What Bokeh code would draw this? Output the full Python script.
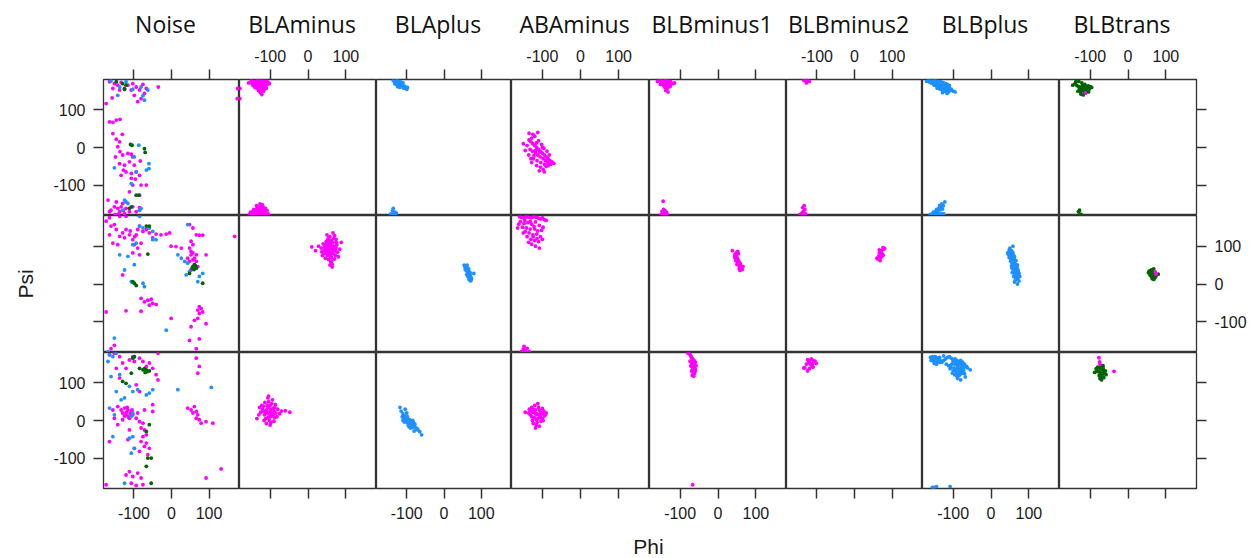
import math
from bokeh.plotting import figure
from bokeh.layouts import gridplot, column, row
from bokeh.models import Range1d, FixedTicker, LinearAxis, Label, CustomJSTickFormatter
from bokeh.embed import file_html
from bokeh.resources import INLINE

# ---------------- data (phi, psi) ----------------
clusters = ["Noise", "BLAminus", "BLAplus", "ABAminus", "BLBminus1", "BLBminus2", "BLBplus", "BLBtrans"]
tick_values = [-100, 0, 100]
x_title, y_title = "Phi", "Psi"
MAG, BLUE, GREEN = "#FF00FF", "#1E90FF", "#006400"

# Noise, top row
noise_top_mag = [(-165,175),(-152,170),(-143,166),(-134,173),(-125,157),(-116,166),(-107,153),(-103,170),(-94,161),(-85,153),(-76,168),(-67,157),(-99,139),(-90,122),(-81,130),(-72,144),(-138,153),(-156,157),(-174,117),(-158,132),(-35,161),(176,157),(175,130),
    (-165,68),(-156,67),(-147,73),(-137,75),(-156,37),(-147,22),(-131,35),(-138,15),(-143,2),(-130,-20),(-149,-25),(-137,-11),(-116,-16),(-107,-18),(-103,-25),(-138,-43),(-125,-47),(-112,-38),(-99,-47),(-121,-65),(-107,-69),(-134,-74),(-128,-60),(-94,-65),(-85,-74),(-107,-82),(-103,-100),(-81,-100),(-67,-100),(-112,-118),(-85,-127),(-96,-84),(-83,-36),
    (-169,-140),(-161,-167),(-152,-158),(-143,-162),(-138,-171),(-130,-149),(-121,-162),(-112,-171),(-147,-145),(-134,-158),(-125,-176),(-103,-158),(-94,-171),(-165,-171),(-85,-160),(-150,-178),(-140,-176),(-128,-168)]
noise_top_blue = [(-161,177),(-138,161),(-121,175),(-103,155),(-81,161),(-72,126),(-63,153),(-143,139),(-76,138),(-87,6),(-60,-43),(-67,-60),(-60,-56),(-152,-54),(-107,-96),(-94,-65),(-99,-25),(-125,-140),(-121,-145),(-116,-149),(-85,-167),(-81,-162),(-130,-167)]
noise_top_green = [(-147,175),(-130,170),(-121,166),(-125,155),(-109,8),(-105,6),(-72,-3),(-70,-13),(-94,-127),(-87,-127),(-112,-162),(-107,-158)]

# Noise, middle row
noise_mid_mag = [(-174,166),(-161,153),(-152,157),(-147,144),(-165,130),(-138,126),(-130,135),(-121,144),(-125,122),(-112,130),(-103,117),(-94,130),(-90,144),(-85,153),(-76,139),(-67,144),(-59,135),(-50,122),(-41,132),(-28,130),(-14,132),(-5,135),(-99,104),(-90,95),(-81,108),(-103,82),(-85,77),(-156,108),(-143,104),(-130,24),
    (-81,-38),(-72,-47),(-63,-43),(-54,-40),(-50,-51),(-59,-56),(-41,-54),(-174,-74),(-121,-71),(-81,-72),(-1,100),(12,99),(26,95),(48,157),(57,148),(66,130),(74,129),(83,129),(52,113),(57,104),(48,95),(52,86),(66,77),(43,68),(57,64),(61,51),(70,46),(52,37),(92,77),(168,126),
    (74,-60),(70,-69),(79,-65),(74,-78),(83,-74),(61,-96),(70,-91),(92,-105),(52,-113),(74,-145),(48,-149),(66,-171),(-1,-91),(-161,-171),(-152,-162),(-165,175),(-138,179),(-121,179),(52,77),(61,68),(48,60),(66,60),(57,82),(-110,140),(-98,125)]
noise_mid_blue = [(-85,153),(-76,148),(-59,148),(-50,139),(-50,117),(-41,117),(-138,77),(-116,73),(-99,51),(-103,104),(-94,108),(-125,37),(-76,2),(-72,-7),(-107,6),(26,68),(35,60),(43,55),(48,33),(66,42),(74,20),(70,6),(83,28),(39,24),(43,157),(17,77),(-14,-122),(-152,-143),(-169,-179),(-85,179)]
noise_mid_green = [(-67,153),(-59,153),(-63,79),(-103,6),(-99,2),(-94,-4),(48,28),(57,46),(66,42),(83,2),(61,51),(55,42),(60,38),(64,48)]

# Noise, bottom row
noise_bot_mag = [(-165,175),(-152,179),(-138,170),(-130,153),(-121,139),(-112,161),(-103,170),(-99,157),(-85,166),(-76,157),(-67,144),(-59,153),(-50,139),(-41,122),(-36,108),(-36,179),(-94,95),(-85,77),(-147,139),(-138,113),
    (-156,28),(-143,37),(-134,28),(-130,20),(-125,33),(-121,15),(-116,28),(-107,24),(-103,15),(-94,6),(-90,20),(-112,6),(-130,2),(-85,-3),(-76,-7),(-81,-20),(-72,-25),(-67,-38),(-76,-43),(-81,-56),(-67,-60),(-59,-74),(-72,-69),(-63,-91),(-85,-82),(-99,-74),(-112,-25),(-116,-51),(-165,-56),
    (-112,-136),(-121,-145),(-103,-149),(-90,-140),(-81,-153),(-107,-167),(-94,-173),(-76,-171),(-174,-171),(66,166),(74,144),(70,126),(43,33),(52,28),(61,37),(66,24),(57,20),(70,15),(74,2),(79,-7),(92,-3),(110,-7),(66,6),(132,-129),(92,-153),(-50,42),(-72,28),(-152,6),(-143,-11),(-50,24),
    (-120,22),(-110,18),(-115,10),(-125,12),(-105,28),(-118,35)]
noise_bot_blue = [(-165,175),(-156,170),(-169,157),(-147,179),(-161,117),(-147,77),(-134,55),(-125,60),(-112,91),(-103,77),(-90,82),(-67,68),(-59,73),(-50,82),(-165,33),(-152,15),(-107,11),(-103,20),(-156,-43),(-112,-47),(-103,-43),(-99,-74),(-107,-87),(-125,-167),(17,82),(106,88),(-99,170),(-138,122)]
noise_bot_green = [(-103,166),(-99,170),(-85,139),(-76,135),(-67,135),(-59,132),(-130,104),(-121,99),(-107,126),(-59,-11),(-67,-29),(-54,-100),(-63,-100),(-67,-122),(-54,-167),(-72,138),(-65,130),(-70,128)]

# BLAminus
blaminus_top = [(-150,178),(-145,176),(-140,175),(-135,177),(-130,178),(-125,176),(-120,177),(-115,175),(-110,176),(-105,174),(-148,170),(-142,168),(-136,171),(-128,169),(-122,170),(-116,167),(-108,168),(-138,163),(-132,162),(-126,164),(-118,161),(-112,163),(-130,156),(-124,157),(-120,154),(-134,158),(-128,150),(-140,160),(-145,165),(-118,150),(-110,158),(-126,146),(-122,141),(-131,152),(-115,155),(-102,170),(-157,172),(-128,174),(-124,160),(-136,166),(-180,157),(-180,130),
    (-155,-178),(-150,-179),(-145,-177),(-140,-178),(-135,-176),(-130,-178),(-125,-177),(-120,-179),(-115,-176),(-110,-178),(-105,-177),(-152,-172),(-146,-170),(-138,-171),(-132,-169),(-126,-172),(-120,-170),(-114,-171),(-108,-168),(-143,-165),(-135,-163),(-128,-164),(-122,-162),(-116,-166),(-130,-158),(-124,-156),(-118,-159),(-140,-168),(-112,-162),(-148,-175),(-136,-155),(-127,-150),(-121,-152),(-133,-174),(-125,-174),(-117,-173)]
blaminus_mid = [(58,90),(52,95),(64,85),(46,100),(70,92),(60,105),(55,78),(48,82),(66,110),(74,96),(42,88),(38,75),(78,84),(62,70),(56,115),(50,108),(68,120),(72,76),(44,98),(54,65),(60,58),(64,52),(58,125),(50,130),(66,135),(76,104),(84,92),(35,95),(28,100),(20,88),(10,98),(88,110),(62,60),(70,66),(48,112),(56,86),(60,72),(52,102),(66,80),(40,106),(74,118),(80,72),(58,50),(64,45),(46,68),(70,128),(54,122),(62,98),
    (55,95),(60,88),(65,95),(50,88),(62,82),(58,110),(52,76),(68,100),(72,88),(45,92),(56,100),(63,92),(49,105),(67,88),(59,80),(53,118),(61,115),(75,110),(42,80),(36,85)]
blaminus_bot = [(-100,22),(-110,28),(-95,18),(-105,35),(-115,15),(-90,25),(-120,30),(-100,10),(-108,40),(-96,45),(-85,20),(-125,22),(-112,5),(-102,0),(-92,32),(-118,38),(-104,50),(-98,-5),(-88,8),(-80,30),(-130,15),(-135,5),(-75,18),(-60,26),(-48,22),(-106,60),(-94,55),(-114,48),(-100,-12),(-110,-8),(-86,42),(-122,40),(-96,12),(-104,65),(-90,-2),(-116,0),(-128,35),(-82,10),(-70,25),(-108,25),
    (-104,18),(-98,30),(-112,20),(-92,15),(-106,8),(-118,25),(-88,35),(-100,40)]

# BLAplus
blaplus_top = [(-130,175),(-125,177),(-120,176),(-115,174),(-110,172),(-128,168),(-122,170),(-116,167),(-112,166),(-105,163),(-132,170),(-118,160),(-124,162),(-108,158),(-100,155),(-114,172),(-126,178),(-120,163),(-98,160),(-136,178),
    (-140,-178),(-135,-176),(-132,-172),(-138,-168),(-130,-178),(-128,-174),(-143,-177),(-136,-162)]
blaplus_mid = [(56,46),(58,42),(60,40),(62,38),(64,34),(66,30),(68,26),(70,22),(72,18),(60,35),(63,32),(66,28),(69,24),(58,48),(62,44),(66,36),(70,30),(74,14),(61,25),(65,22),(68,16),(72,10),(57,38),(64,20),(67,12),(71,8),(80,28),(54,50),(66,40),(62,50)]
blaplus_bot = [(-115,25),(-110,18),(-105,12),(-100,5),(-95,0),(-90,-5),(-85,-10),(-80,-15),(-75,-20),(-70,-25),(-65,-30),(-60,-38),(-108,5),(-102,-2),(-98,10),(-94,-8),(-88,-2),(-84,-18),(-78,-10),(-72,-22),(-112,10),(-96,-12),(-92,2),(-86,-14),(-82,-5),(-100,20),(-90,-20),(-104,30),(-118,35),(-98,-5),(-88,-8),(-80,-28),(-106,-4),(-94,-16),(-110,0),(-84,0)]

# ABAminus
abaminus_top = [(-135,20),(-130,15),(-125,10),(-120,5),(-115,0),(-110,-5),(-105,-10),(-100,-15),(-95,-20),(-90,-25),(-85,-30),(-80,-35),(-75,-38),(-70,-42),(-140,5),(-132,-5),(-126,-10),(-118,-15),(-112,-20),(-106,-25),(-98,-30),(-92,-35),(-86,-40),(-78,-45),(-145,-8),(-128,25),(-122,-22),(-116,12),(-108,-12),(-102,8),(-96,-2),(-88,-10),(-82,-20),(-136,-20),(-124,-30),(-114,-35),(-104,-40),(-94,-45),(-120,30),(-110,18),(-100,0),(-130,-30),(-115,-48),(-105,-52),(-90,-50),(-125,35),(-112,40),(-98,-58),(-150,10),(-135,38),(-118,-8),(-128,-40),(-108,-62),(-95,-65),(-85,-48)]
abaminus_mid = [(-160,178),(-155,176),(-150,175),(-145,177),(-140,178),(-135,176),(-130,175),(-125,177),(-120,178),(-115,176),(-110,174),(-105,172),(-100,175),(-95,170),(-90,168),(-158,165),(-148,160),(-138,162),(-128,158),(-118,164),(-108,155),(-98,150),(-152,150),(-142,148),(-132,145),(-122,152),(-112,140),(-102,142),(-165,148),(-145,138),(-135,135),(-125,130),(-115,132),(-105,125),(-140,125),(-130,118),(-120,115),(-110,112),(-150,135),(-128,105),(-118,100),(-108,95),(-136,110),(-124,125),(-114,120),(-100,118),(-162,158),(-146,168),(-132,165),(-120,145),
    (-155,-178),(-150,-172),(-145,-176),(-140,-170),(-148,-165),(-135,-178)]
abaminus_bot = [(-130,25),(-125,22),(-120,20),(-115,18),(-110,15),(-105,20),(-100,18),(-95,12),(-128,10),(-122,8),(-116,15),(-112,5),(-106,10),(-100,5),(-96,25),(-132,15),(-124,30),(-118,28),(-108,28),(-102,22),(-98,0),(-92,15),(-136,20),(-126,0),(-114,-5),(-104,-2),(-120,40),(-110,35),(-134,30),(-116,-12),(-100,32),(-124,-8),(-112,45),(-108,-15),(-118,-20),(-145,22),(-90,20),(-128,35),(-115,2),(-105,8)]

# BLBminus1
blbminus1_top = [(-155,178),(-150,177),(-145,176),(-140,178),(-135,177),(-130,176),(-125,175),(-148,172),(-142,170),(-138,171),(-132,169),(-128,168),(-152,168),(-144,165),(-136,164),(-130,162),(-140,160),(-134,158),(-126,163),(-120,170),(-146,175),(-138,152),(-132,148),(-160,176),(-115,172),
    (-150,-178),(-146,-176),(-142,-177),(-138,-175),(-134,-178),(-148,-170),(-140,-168),(-136,-172),(-144,-165),(-145,-143)]
blbminus1_mid = [(45,78),(48,74),(50,70),(52,66),(54,62),(56,58),(58,54),(46,68),(49,64),(53,60),(57,56),(60,50),(44,72),(50,52),(55,48),(59,44),(62,40),(48,82),(52,86),(56,40),(64,38),(38,88),(58,36),(54,80),(51,58),(47,62),(66,46)]
blbminus1_bot = [(-72,172),(-70,168),(-68,165),(-66,162),(-64,160),(-62,158),(-60,155),(-74,158),(-70,152),(-66,150),(-62,148),(-58,146),(-72,145),(-68,142),(-64,140),(-60,138),(-70,132),(-66,128),(-62,125),(-68,120),(-64,118),(-76,178),(-80,180),(-74,176),(-60,132),(-66,136),(-67,-171)]

# BLBminus2
blbminus2_top = [(-135,179),(-130,177),(-125,178),(-120,176),(-128,172),
    (-145,-178),(-140,-175),(-136,-170),(-132,-165),(-138,-160),(-134,-155),(-142,-178),(-130,-177)]
blbminus2_mid = [(66,90),(68,86),(70,84),(72,82),(74,78),(76,76),(64,72),(70,70),(74,74),(78,92),(62,66),(68,62),(72,88),(76,96),(80,94),(66,80),(60,68)]
blbminus2_bot = [(-125,162),(-120,160),(-115,164),(-110,160),(-105,158),(-122,155),(-118,152),(-112,150),(-108,156),(-128,150),(-115,145),(-102,152),(-132,140),(-120,138),(-110,142),(-125,132),(-135,140)]

# BLBplus
blbplus_top = [(-165,178),(-160,177),(-155,176),(-150,178),(-145,177),(-140,176),(-135,175),(-130,174),(-125,172),(-120,170),(-115,168),(-110,165),(-158,172),(-152,170),(-146,169),(-140,168),(-134,167),(-128,165),(-122,163),(-116,160),(-110,158),(-105,155),(-150,166),(-144,164),(-138,162),(-132,160),(-126,158),(-120,156),(-114,154),(-108,152),(-100,150),(-142,158),(-136,156),(-130,154),(-124,152),(-118,150),(-112,148),(-128,146),(-122,150),(-116,144),(-95,148),(-170,176),(-162,174),(-156,172),(-148,174),(-138,172),(-134,170),(-126,166),
    (-160,-178),(-155,-177),(-150,-178),(-145,-176),(-140,-177),(-135,-178),(-130,-176),(-125,-177),(-152,-172),(-146,-170),(-140,-168),(-134,-166),(-128,-164),(-144,-165),(-138,-162),(-132,-158),(-126,-155),(-136,-155),(-130,-150),(-122,-145),(-140,-174),(-148,-175)]
blbplus_mid = [(48,90),(50,85),(52,80),(54,75),(56,70),(58,65),(60,60),(62,55),(64,50),(66,45),(68,40),(70,35),(50,95),(54,88),(58,82),(62,72),(66,62),(70,50),(46,78),(52,68),(56,55),(60,45),(64,38),(68,30),(72,25),(55,42),(59,35),(63,28),(67,20),(71,15),(48,70),(44,82),(52,60),(60,40),(76,20),(74,8),(70,0),(64,10),(58,100),(62,5),(54,48),(66,28),
    (50,75),(56,85),(62,65),(66,52),(70,42),(58,58),(64,40),(54,62),(60,75),(68,48),(72,35),(62,30),(56,30),(74,28),(66,15),(60,20)]
blbplus_bot = [(-160,168),(-155,170),(-150,166),(-145,168),(-140,165),(-135,162),(-158,160),(-152,158),(-148,160),(-142,156),(-138,158),(-150,152),(-144,150),(-130,155),(-125,160),(-120,164),(-115,168),(-110,170),(-105,166),(-100,162),(-95,164),(-90,160),(-85,156),(-80,152),(-75,148),(-70,150),(-65,144),(-118,150),(-112,146),(-106,142),(-98,154),(-92,150),(-88,146),(-82,140),(-78,136),(-72,132),(-108,138),(-100,132),(-94,136),(-86,128),(-80,124),(-74,130),(-96,122),(-90,118),(-84,120),(-76,126),(-68,116),(-88,112),(-80,108),(-102,126),(-62,140),(-55,135),(-125,172),(-135,155),
    (-95,150),(-90,140),(-85,135),(-78,145),(-72,140),(-92,130),(-86,150),(-80,160),(-75,155),(-98,140),(-104,150),(-88,125),(-70,125),(-100,158),(-82,130),(-94,156),(-155,162),(-148,170),(-142,162),(-136,168),(-152,164),
    (-155,-178),(-150,-178),(-144,-176),(-108,-176)]

# BLBtrans
blbtrans_top_green = [(-135,165),(-130,162),(-125,160),(-120,158),(-115,160),(-110,162),(-105,164),(-100,162),(-128,155),(-122,154),(-118,152),(-112,156),(-108,158),(-102,156),(-132,150),(-126,148),(-116,148),(-110,150),(-104,148),(-124,142),(-118,140),(-112,145),(-120,165),(-114,168),(-140,170),(-146,166),(-138,175),(-96,160),(-130,176),(-122,172),
    (-131,-171),(-128,-167),(-124,-178),(-126,-178)]
blbtrans_top_mag = [(-113,145)]
blbtrans_mid_green = [(56,34),(58,32),(60,30),(62,28),(64,26),(66,24),(68,22),(70,20),(72,18),(60,36),(64,38),(68,40),(72,30),(58,24),(62,20),(66,18),(70,16),(74,22),(64,14),(68,12),(66,30),(62,34),(80,26),(54,30)]
blbtrans_mid_mag = [(74,26),(72,32)]
blbtrans_bot_green = [(-80,142),(-76,140),(-72,138),(-68,136),(-64,134),(-60,132),(-78,130),(-74,128),(-70,126),(-66,124),(-62,130),(-76,120),(-72,118),(-68,116),(-64,114),(-74,112),(-70,108),(-66,140),(-84,138),(-88,128),(-82,132),(-58,122),(-70,145),(-66,146)]
blbtrans_bot_mag = [(-77,167),(-75,156),(-74,150),(-37,131)]

# panel contents: (row, column) -> list of (points, colour)
panels = {
    (0, 0): [(noise_top_mag, MAG), (noise_top_blue, BLUE), (noise_top_green, GREEN)],
    (1, 0): [(noise_mid_mag, MAG), (noise_mid_blue, BLUE), (noise_mid_green, GREEN)],
    (2, 0): [(noise_bot_mag, MAG), (noise_bot_blue, BLUE), (noise_bot_green, GREEN)],
    (0, 1): [(blaminus_top, MAG)], (1, 1): [(blaminus_mid, MAG)], (2, 1): [(blaminus_bot, MAG)],
    (0, 2): [(blaplus_top, BLUE)], (1, 2): [(blaplus_mid, BLUE)], (2, 2): [(blaplus_bot, BLUE)],
    (0, 3): [(abaminus_top, MAG)], (1, 3): [(abaminus_mid, MAG)], (2, 3): [(abaminus_bot, MAG)],
    (0, 4): [(blbminus1_top, MAG)], (1, 4): [(blbminus1_mid, MAG)], (2, 4): [(blbminus1_bot, MAG)],
    (0, 5): [(blbminus2_top, MAG)], (1, 5): [(blbminus2_mid, MAG)], (2, 5): [(blbminus2_bot, MAG)],
    (0, 6): [(blbplus_top, BLUE)], (1, 6): [(blbplus_mid, BLUE)], (2, 6): [(blbplus_bot, BLUE)],
    (0, 7): [(blbtrans_top_green, GREEN), (blbtrans_top_mag, MAG)],
    (1, 7): [(blbtrans_mid_green, GREEN), (blbtrans_mid_mag, MAG)],
    (2, 7): [(blbtrans_bot_green, GREEN), (blbtrans_bot_mag, MAG)],
}

# ---------------- layout ----------------
W, H = 1249, 558
col_w = [136, 137, 135, 138, 137, 136, 137, 137]
row_h = [136, 137, 136]
PSI_W = 50          # strip on the left holding the "Psi" label
HEAD_H = 40         # strip on top holding the panel titles
FOOT_H = 28         # strip at the bottom holding the "Phi" label
LEFT, RIGHT = 103 - PSI_W, 53
TOP = 79 - HEAD_H
BOTTOM = H - HEAD_H - TOP - sum(row_h) - FOOT_H
LIM = 181
AX_COLOR = "#333333"
TXT_COLOR = "#1a1a1a"


def make_axis(show_labels):
    ax = LinearAxis(ticker=FixedTicker(ticks=tick_values))
    ax.axis_line_color = None
    ax.major_tick_in = 0
    ax.major_tick_out = 10
    ax.major_tick_line_color = AX_COLOR
    ax.major_tick_line_width = 1.5
    ax.minor_tick_line_color = None
    ax.major_label_text_font = "Liberation Sans"
    ax.major_label_text_font_size = "16px"
    ax.major_label_text_color = TXT_COLOR
    ax.major_label_standoff = 8
    if show_labels:
        ax.formatter = CustomJSTickFormatter(code="return tick.toFixed(0)")
    else:
        ax.formatter = CustomJSTickFormatter(code="return ''")
    return ax


def blank_fig(w, h):
    f = figure(width=w, height=h, x_range=Range1d(0, w), y_range=Range1d(0, h),
               x_axis_location=None, y_axis_location=None, output_backend="svg",
               toolbar_location=None, min_border=0)
    f.title.visible = False
    f.grid.visible = False
    f.outline_line_color = None
    return f


rows = []
for r in range(3):
    prow = []
    for c in range(8):
        p = figure(frame_width=col_w[c], frame_height=row_h[r],
                   x_range=Range1d(-LIM, LIM), y_range=Range1d(-LIM, LIM),
                   x_axis_location=None, y_axis_location=None,
                   output_backend="svg", toolbar_location=None,
                   min_border_left=LEFT if c == 0 else 0,
                   min_border_right=RIGHT if c == 7 else 0,
                   min_border_top=TOP if r == 0 else 0,
                   min_border_bottom=BOTTOM if r == 2 else 0)
        p.grid.visible = False
        p.outline_line_color = AX_COLOR
        p.outline_line_width = 1.3
        p.background_fill_color = "white"
        p.border_fill_color = "white"
        if r == 0:
            p.add_layout(make_axis(c % 2 == 1), "above")
        if r == 2:
            p.add_layout(make_axis(c % 2 == 0), "below")
        if c == 0:
            p.add_layout(make_axis(r != 1), "left")
        if c == 7:
            p.add_layout(make_axis(r == 1), "right")
        for pts, colr in panels[(r, c)]:
            xs = [a for a, b in pts]
            ys = [b for a, b in pts]
            p.scatter(xs, ys, size=3.8, fill_color=colr, line_color=None, marker="circle")
        prow.append(p)
    rows.append(prow)

grid = gridplot(rows, toolbar_location=None)
grid_h = TOP + sum(row_h) + BOTTOM

# titles strip
head = blank_fig(W, HEAD_H)
x0 = LEFT + PSI_W
for c, name in enumerate(clusters):
    cx = x0 + sum(col_w[:c]) + col_w[c] / 2 - 6
    head.add_layout(Label(x=cx, y=HEAD_H - 23, text=name, text_align="center", text_baseline="middle",
                          text_font="Open Sans", text_font_size="23px", text_color="#111111"))

# Psi strip
side = blank_fig(PSI_W, grid_h)
side.add_layout(Label(x=25, y=BOTTOM + row_h[2] + row_h[1] / 2, text=y_title, angle=math.pi / 2,
                      text_align="center", text_baseline="middle",
                      text_font="Liberation Sans", text_font_size="21px", text_color=TXT_COLOR))

# Phi strip
foot = blank_fig(W, FOOT_H)
foot.add_layout(Label(x=648, y=12, text=x_title, text_align="center", text_baseline="middle",
                      text_font="Liberation Sans", text_font_size="21px", text_color=TXT_COLOR))

layout = column(head, row(side, grid), foot)
open("out.html", "w").write(file_html(layout, INLINE))
